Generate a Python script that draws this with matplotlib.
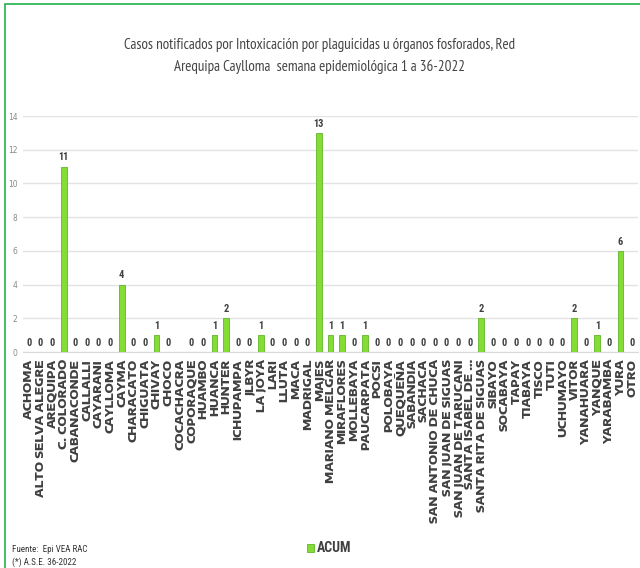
import matplotlib.pyplot as plt
import matplotlib.patches as mpatches
import numpy as np

# datos: casos acumulados por distrito
distritos = ["ACHOMA", "ALTO SELVA ALEGRE", "AREQUIPA", "C. COLORADO", "CABANACONDE",
             "CALLALLI", "CAYARANI", "CAYLLOMA", "CAYMA", "CHARACATO", "CHIGUATA",
             "CHIVAY", "CHOCO", "COCACHACRA", "COPORAQUE", "HUAMBO", "HUANCA", "HUNTER",
             "ICHUPAMPA", "JLBYR", "LA JOYA", "LARI", "LLUTA", "MACA", "MADRIGAL",
             "MAJES", "MARIANO MELGAR", "MIRAFLORES", "MOLLEBAYA", "PAUCARPATA", "POCSI",
             "POLOBAYA", "QUEQUEÑA", "SABANDIA", "SACHACA", "SAN ANTONIO DE CHUCA",
             "SAN JUAN DE SIGUAS", "SAN JUAN DE TARUCANI", "SANTA ISABEL DE ...",
             "SANTA RITA DE SIGUAS", "SIBAYO", "SOCABAYA", "TAPAY", "TIABAYA", "TISCO",
             "TUTI", "UCHUMAYO", "VITOR", "YANAHUARA", "YANQUE", "YARABAMBA", "YURA", "OTRO"]
acum = [0, 0, 0, 11, 0, 0, 0, 0, 4, 0, 0, 1, 0, None, 0, 0, 1, 2, 0, 0, 1, 0, 0, 0, 0,
        13, 1, 1, 0, 1, 0, 0, 0, 0, 0, 0, 0, 0, 0, 2, 0, 0, 0, 0, 0, 0, 0, 2, 0, 1, 0, 6, 0]

titulo = ("Casos notificados por Intoxicación por plaguicidas u órganos fosforados, Red\n"
          "Arequipa Caylloma  semana epidemiológica 1 a 36-2022")
fuente = ["Fuente:  Epi VEA RAC", "(*) A.S.E. 36-2022"]

narrow = ["Roboto Condensed", "DejaVu Sans"]
estrecha = ["PT Sans Narrow", "Roboto Condensed", "DejaVu Sans"]
ancha = ["Encode Sans Expanded", "DejaVu Sans"]

fig = plt.figure(figsize=(6.4, 5.68), dpi=100)
W, H = 640, 568
ax = fig.add_axes([23 / W, (H - 352) / H, (638 - 23) / W, (352 - 116) / H])

x = np.arange(len(distritos))
valores = np.array([np.nan if v is None else v for v in acum], dtype=float)
bars = ax.bar(x, np.nan_to_num(valores), width=0.5, color="#84dc34",
              edgecolor="#5fb52a", linewidth=0.6, zorder=3)

for xi, v in zip(x, valores):
    if np.isnan(v):
        continue
    ax.annotate(str(int(v)), (xi, v), xytext=(0, 3), textcoords="offset points",
                ha="center", va="bottom", fontsize=7.5, fontweight="bold",
                color="#404040", family=narrow)

ax.set_xlim(-0.5, len(distritos) - 0.5)
ax.set_ylim(0, 14)
ax.set_yticks(range(0, 15, 2))
ax.yaxis.grid(True, color="#e3e3e3", linewidth=1, zorder=0)
ax.tick_params(axis="y", length=0, labelsize=5.5, labelcolor="#8a8a8a", pad=4)
ax.tick_params(axis="x", length=0, pad=5)
ax.set_xticks(x)
ax.set_xticklabels(distritos, rotation=90, fontsize=8.2, fontweight="heavy",
                   color="#404040", va="top", family=ancha)
for s in ["left", "right", "top"]:
    ax.spines[s].set_visible(False)
ax.spines["bottom"].set_color("#d9d9d9")

fig.text(0.5, (H - 56) / H, titulo, ha="center", va="center", fontsize=10.8,
         color="#454545", family=estrecha, linespacing=1.6)

# leyenda
fig.patches.append(mpatches.Rectangle((307 / W, (H - 552) / H), 7 / W, 8 / H,
                                      transform=fig.transFigure, facecolor="#84dc34",
                                      edgecolor="#5fb52a", linewidth=0.6))
fig.text(317 / W, (H - 548) / H, "ACUM", ha="left", va="center", fontsize=10,
         fontweight="bold", color="#404040", family=narrow)

fig.text(12 / W, (H - 549) / H, fuente[0], ha="left", va="center", fontsize=6.5,
         color="#333333", family=narrow)
fig.text(12 / W, (H - 562) / H, fuente[1], ha="left", va="center", fontsize=6.5,
         color="#333333", family=narrow)

# borde verde
fig.patches.append(mpatches.Rectangle((5 / W, -0.1), 1.2, (H - 4) / H + 0.1,
                                      transform=fig.transFigure, fill=False,
                                      edgecolor="#22b14c", linewidth=1.2))

fig.savefig("out.png", dpi=100)
